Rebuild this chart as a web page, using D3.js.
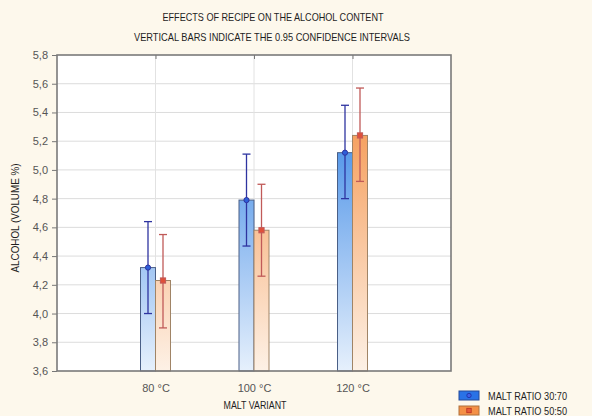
<!DOCTYPE html>
<html>
<head>
<meta charset="utf-8">
<script src="https://cdn.jsdelivr.net/npm/d3@7"></script>
<style>
  html, body { margin: 0; padding: 0; background: #fdf8ec; }
  svg { display: block; }
</style>
</head>
<body>
<script>
// Alcohol content by malt variant and malt ratio, with 0.95 confidence intervals
const categories = ["80 °C", "100 °C", "120 °C"];
const seriesNames = ["MALT RATIO 30:70", "MALT RATIO 50:50"];
const meanRatio3070 = [4.32, 4.79, 5.12];
const lowRatio3070  = [4.00, 4.47, 4.80];
const highRatio3070 = [4.64, 5.11, 5.45];
const meanRatio5050 = [4.23, 4.58, 5.24];
const lowRatio5050  = [3.90, 4.26, 4.92];
const highRatio5050 = [4.55, 4.90, 5.57];
const yTicks = [3.6, 3.8, 4.0, 4.2, 4.4, 4.6, 4.8, 5.0, 5.2, 5.4, 5.6, 5.8];

const series = [
  { name: seriesNames[0], mean: meanRatio3070, low: lowRatio3070, high: highRatio3070,
    top: "#3f8ae6", bottom: "#e6f0fc", stroke: "#4a5f86", err: "#2e34a0", dot: "#2f5fd8" },
  { name: seriesNames[1], mean: meanRatio5050, low: lowRatio5050, high: highRatio5050,
    top: "#f59a55", bottom: "#fdf1e6", stroke: "#a08466", err: "#c05a58", dot: "#e0503a" }
];

const W = 592, H = 416;
const plot = { left: 57, right: 451, top: 55, bottom: 371 };

const svg = d3.select("body").append("svg").attr("width", W).attr("height", H);
svg.append("rect").attr("width", W).attr("height", H).attr("fill", "#fdf8ec");

const x = d3.scalePoint().domain(["", ...categories, " "]).range([plot.left, plot.right]);
const y = d3.scaleLinear().domain([3.6, 5.8]).range([plot.bottom, plot.top]);
const fmt = d => d.toFixed(1).replace(".", ",");

// gradients run along the value axis
const defs = svg.append("defs");
series.forEach((s, i) => {
  const g = defs.append("linearGradient").attr("id", "grad" + i)
    .attr("gradientUnits", "userSpaceOnUse")
    .attr("x1", 0).attr("x2", 0).attr("y1", y(3.6)).attr("y2", y(5.4));
  g.append("stop").attr("offset", "0%").attr("stop-color", s.bottom);
  g.append("stop").attr("offset", "100%").attr("stop-color", s.top);
});

// plot background
svg.append("rect").attr("x", plot.left).attr("y", plot.top)
  .attr("width", plot.right - plot.left).attr("height", plot.bottom - plot.top)
  .attr("fill", "#ffffff");

// grid lines
svg.append("g").selectAll("line").data(yTicks.slice(1, -1)).join("line")
  .attr("x1", plot.left).attr("x2", plot.right)
  .attr("y1", d => y(d)).attr("y2", d => y(d))
  .attr("stroke", "#dcdcdc").attr("stroke-width", 1);
svg.append("g").selectAll("line").data(categories).join("line")
  .attr("x1", d => x(d)).attr("x2", d => x(d))
  .attr("y1", plot.top).attr("y2", plot.bottom)
  .attr("stroke", "#e2e2e2").attr("stroke-width", 1);

// axes
const yAxis = svg.append("g").attr("transform", `translate(${plot.left},0)`)
  .call(d3.axisLeft(y).tickValues(yTicks).tickFormat(fmt).tickSize(5).tickPadding(4));
yAxis.select(".domain").remove();
yAxis.selectAll("line").attr("stroke", "#777");
yAxis.selectAll("text").attr("fill", "#555").attr("font-size", 11)
  .attr("font-family", "Liberation Sans, Arial, sans-serif");

const xAxis = svg.append("g").attr("transform", `translate(0,${plot.bottom})`)
  .call(d3.axisBottom(x).tickValues(categories).tickSize(4).tickPadding(9));
xAxis.select(".domain").remove();
xAxis.selectAll("line").attr("stroke", "#777").attr("transform", "translate(0,-4)");
xAxis.selectAll("text").attr("fill", "#555").attr("font-size", 11)
  .attr("font-family", "Liberation Sans, Arial, sans-serif");

const xTop = svg.append("g").attr("transform", `translate(0,${plot.top})`)
  .call(d3.axisBottom(x).tickValues(categories).tickSize(4).tickFormat(""));
xTop.select(".domain").remove();
xTop.selectAll("line").attr("stroke", "#777");

// bars
const barW = 15;
series.forEach((s, i) => {
  const off = i === 0 ? -barW : 0;
  svg.append("g").selectAll("rect").data(categories).join("rect")
    .attr("x", d => x(d) + off)
    .attr("y", (d, j) => y(s.mean[j]))
    .attr("width", barW)
    .attr("height", (d, j) => y(3.6) - y(s.mean[j]))
    .attr("fill", `url(#grad${i})`)
    .attr("stroke", s.stroke).attr("stroke-width", 1);
});

// confidence intervals
series.forEach((s, i) => {
  const cx = d => x(d) + (i === 0 ? -barW / 2 : barW / 2);
  const g = svg.append("g");
  g.selectAll(".v").data(categories).join("line")
    .attr("x1", cx).attr("x2", cx)
    .attr("y1", (d, j) => y(s.low[j])).attr("y2", (d, j) => y(s.high[j]))
    .attr("stroke", s.err).attr("stroke-width", 1.3);
  ["low", "high"].forEach(k => {
    g.selectAll(".c" + k).data(categories).join("line")
      .attr("x1", d => cx(d) - 4).attr("x2", d => cx(d) + 4)
      .attr("y1", (d, j) => y(s[k][j])).attr("y2", (d, j) => y(s[k][j]))
      .attr("stroke", s.err).attr("stroke-width", 1.3);
  });
  if (i === 0) {
    g.selectAll("circle").data(categories).join("circle")
      .attr("cx", cx).attr("cy", (d, j) => y(s.mean[j])).attr("r", 2.6)
      .attr("fill", s.dot).attr("stroke", s.err).attr("stroke-width", 1);
  } else {
    g.selectAll("rect").data(categories).join("rect")
      .attr("x", d => cx(d) - 2.6).attr("y", (d, j) => y(s.mean[j]) - 2.6)
      .attr("width", 5.2).attr("height", 5.2)
      .attr("fill", s.dot).attr("stroke", s.err).attr("stroke-width", 1);
  }
});

// frame
svg.append("rect").attr("x", plot.left).attr("y", plot.top)
  .attr("width", plot.right - plot.left).attr("height", plot.bottom - plot.top)
  .attr("fill", "none").attr("stroke", "#7a7a7a").attr("stroke-width", 1.6);

// titles (condensed caption lettering)
const capFont = "Liberation Sans, Arial, sans-serif";
function caption(txt, xPos, yPos, len, rotate) {
  const t = svg.append("text")
    .attr("text-anchor", "middle")
    .attr("font-family", capFont).attr("font-size", 10.5).attr("fill", "#1e1e1e")
    .attr("textLength", len).attr("lengthAdjust", "spacingAndGlyphs")
    .text(txt);
  if (rotate) t.attr("transform", `translate(${xPos},${yPos}) rotate(-90)`);
  else t.attr("x", xPos).attr("y", yPos);
  return t;
}
caption("EFFECTS OF RECIPE ON THE ALCOHOL CONTENT", 273, 21, 221);
caption("VERTICAL BARS INDICATE THE 0.95 CONFIDENCE INTERVALS", 272, 41, 276);
caption("MALT VARIANT", 255, 409, 63);
caption("ALCOHOL (VOLUME %)", 19, 218, 109, true);

// legend
const legend = [
  { name: seriesNames[0], fill: "#2a72e6", stroke: "#254a9a", mark: "#3f5fe8", markStroke: "#1c2fa0", shape: "circle" },
  { name: seriesNames[1], fill: "#f49046", stroke: "#b0703c", mark: "#e65a3a", markStroke: "#b83020", shape: "square" }
];
const lg = svg.append("g").selectAll("g").data(legend).join("g")
  .attr("transform", (d, i) => `translate(459,${391 + i * 15})`);
lg.append("rect").attr("width", 20).attr("height", 9)
  .attr("fill", d => d.fill).attr("stroke", d => d.stroke).attr("stroke-width", 1);
lg.filter(d => d.shape === "circle").append("circle").attr("cx", 10).attr("cy", 4.5).attr("r", 2.2)
  .attr("fill", d => d.mark).attr("stroke", d => d.markStroke).attr("stroke-width", 0.8);
lg.filter(d => d.shape === "square").append("rect").attr("x", 7.8).attr("y", 2.3).attr("width", 4.4).attr("height", 4.4)
  .attr("fill", d => d.mark).attr("stroke", d => d.markStroke).attr("stroke-width", 0.8);
lg.append("text").attr("x", 29).attr("y", 8.5)
  .attr("font-family", capFont).attr("font-size", 10.5).attr("fill", "#1e1e1e")
  .attr("textLength", 79).attr("lengthAdjust", "spacingAndGlyphs")
  .text(d => d.name);
</script>
</body>
</html>
